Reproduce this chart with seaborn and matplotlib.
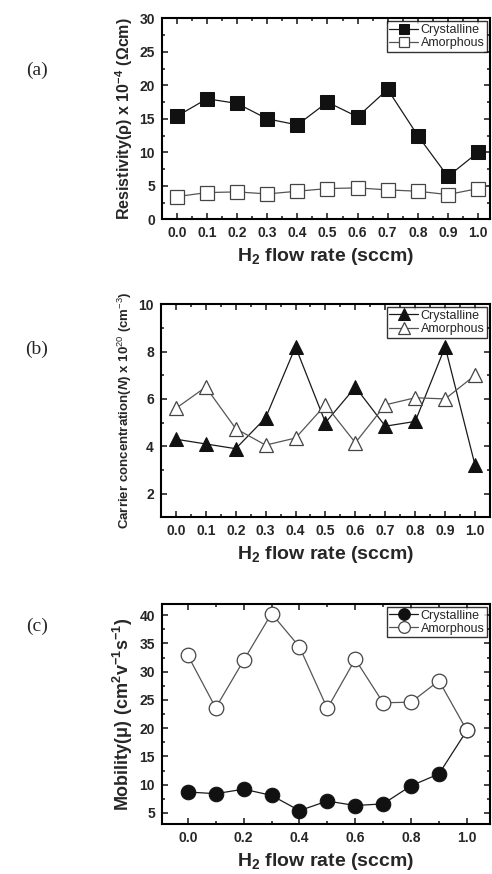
import matplotlib
matplotlib.use("Agg")
import matplotlib.pyplot as plt
import seaborn as sns
import pandas as pd
from matplotlib.ticker import MultipleLocator, AutoMinorLocator

sns.set_theme(style="ticks")
plt.rcParams['font.family'] = ['Liberation Sans', 'DejaVu Sans']
plt.rcParams['mathtext.fontset'] = 'custom'
plt.rcParams['mathtext.rm'] = 'Liberation Sans'
plt.rcParams['mathtext.bf'] = 'Liberation Sans:bold'
plt.rcParams['mathtext.it'] = 'Liberation Sans:italic:bold'

flow = [0.0, 0.1, 0.2, 0.3, 0.4, 0.5, 0.6, 0.7, 0.8, 0.9, 1.0]

res_cryst = [15.4, 18.0, 17.3, 15.0, 14.1, 17.5, 15.3, 19.4, 12.5, 6.4, 10.0]
res_amor = [3.4, 4.0, 4.1, 3.8, 4.2, 4.6, 4.7, 4.4, 4.2, 3.7, 4.6]

conc_cryst = [4.3, 4.1, 3.9, 5.2, 8.2, 5.0, 6.5, 4.85, 5.05, 8.2, 3.2]
conc_amor = [5.6, 6.5, 4.75, 4.05, 4.35, 5.75, 4.15, 5.75, 6.05, 6.0, 7.0]

mob_cryst = [8.7, 8.4, 9.2, 8.1, 5.4, 7.1, 6.3, 6.6, 9.8, 11.9, 19.6]
mob_amor = [32.9, 23.6, 32.0, 40.3, 34.4, 23.5, 32.2, 24.5, 24.6, 28.4, 19.6]

panels = [
    dict(cryst=res_cryst, amor=res_amor, marker='s', ms=9.5,
         ylim=(0, 30), ymaj=5, xlim=(-0.05, 1.04), xmaj=0.1,
         ylabel=r'$\mathbf{Resistivity(\rho)\ x\ 10^{-4}\ (\Omega cm)}$', yfs=11.5,
         rect=[0.329, 0.749, 0.667, 0.230], tag='(a)', tag_y=0.92),
    dict(cryst=conc_cryst, amor=conc_amor, marker='^', ms=10.5,
         ylim=(1, 10), ymaj=2, xlim=(-0.05, 1.05), xmaj=0.1,
         ylabel=r'Carrier concentration($N$) x 10$^{20}$ (cm$^{-3}$)', yfs=9.5,
         rect=[0.327, 0.408, 0.669, 0.244], tag='(b)', tag_y=0.60),
    dict(cryst=mob_cryst, amor=mob_amor, marker='o', ms=10.5,
         ylim=(3, 42), ymaj=5, xlim=(-0.093, 1.083), xmaj=0.2,
         ylabel=r'$\mathbf{Mobility(\mu)\ (cm^{2}v^{-1}s^{-1})}$', yfs=13,
         rect=[0.329, 0.057, 0.667, 0.252], tag='(c)', tag_y=0.283),
]

fig = plt.figure(figsize=(4.92, 8.74), dpi=100)

for p in panels:
    ax = fig.add_axes(p['rect'])
    df = pd.DataFrame({'flow': flow, 'Crystalline': p['cryst'], 'Amorphous': p['amor']})
    sns.lineplot(data=df, x='flow', y='Crystalline', ax=ax, color='#1a1a1a', lw=0.9,
                 marker=p['marker'], markersize=p['ms'], markerfacecolor='#111111',
                 markeredgecolor='#111111', label='Crystalline')
    sns.lineplot(data=df, x='flow', y='Amorphous', ax=ax, color='#555555', lw=0.9,
                 marker=p['marker'], markersize=p['ms'], markerfacecolor='white',
                 markeredgecolor='#444444', markeredgewidth=0.9, label='Amorphous')
    ax.set_xlim(*p['xlim'])
    ax.set_ylim(*p['ylim'])
    ax.xaxis.set_major_locator(MultipleLocator(p['xmaj']))
    ax.yaxis.set_major_locator(MultipleLocator(p['ymaj']))
    ax.xaxis.set_minor_locator(AutoMinorLocator(2))
    ax.yaxis.set_minor_locator(AutoMinorLocator(2))
    ax.tick_params(which='both', direction='in', top=True, right=True, width=1.2)
    ax.tick_params(which='major', length=4)
    ax.tick_params(which='minor', length=2.5)
    ax.tick_params(labeltop=False, labelright=False, labelsize=10, pad=5)
    ax.xaxis.set_major_formatter(matplotlib.ticker.FormatStrFormatter('%.1f'))
    for lab in ax.get_xticklabels() + ax.get_yticklabels():
        lab.set_fontweight('bold')
    for s in ax.spines.values():
        s.set_linewidth(1.5)
        s.set_color('black')
    ax.set_xlabel(r'H$_{\mathbf{2}}$ flow rate (sccm)', fontsize=14, fontweight='bold', labelpad=4)
    ax.set_ylabel(p['ylabel'], fontsize=p['yfs'], fontweight='bold', labelpad=3)
    leg = ax.legend(loc='upper right', fontsize=9, frameon=True, fancybox=False,
                    borderpad=0.2, labelspacing=0.1, handlelength=2.3, handletextpad=0.2,
                    borderaxespad=0.25, markerscale=0.8)
    leg.get_frame().set_edgecolor('black')
    leg.get_frame().set_linewidth(1.0)
    fig.text(0.075, p['tag_y'], p['tag'], fontsize=14, family='Liberation Serif', ha='center', va='center')

fig.savefig('out.png', dpi=100)
